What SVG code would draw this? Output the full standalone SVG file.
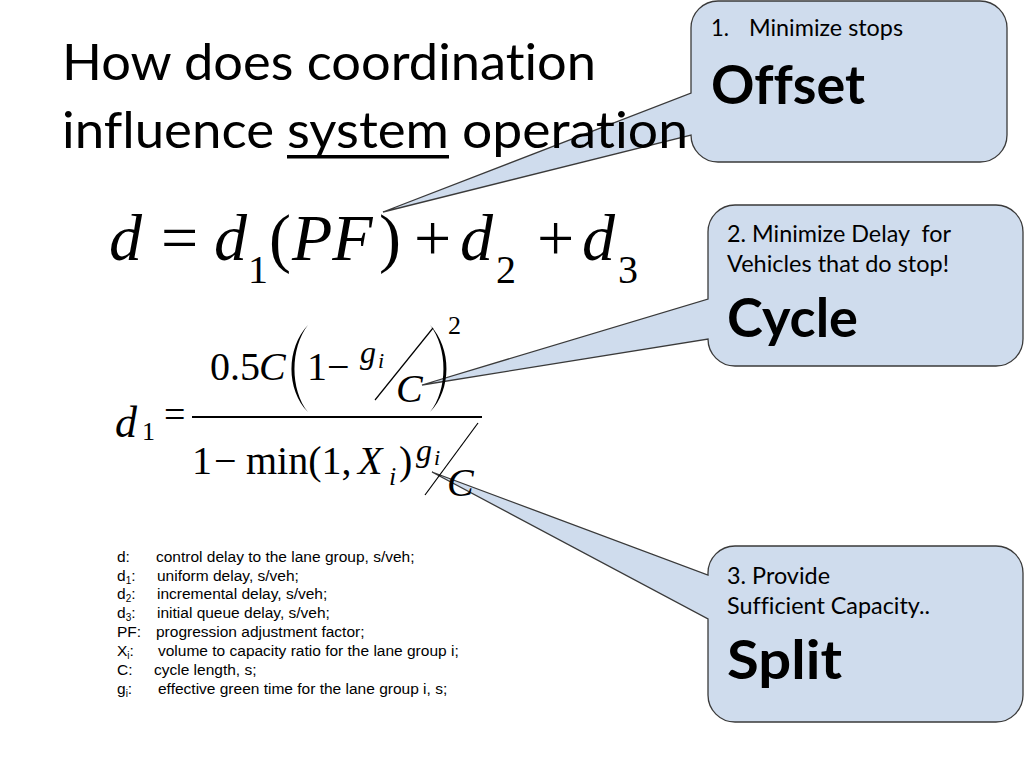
<svg xmlns="http://www.w3.org/2000/svg" width="1024" height="768" viewBox="0 0 1024 768">
<style>
text{font-variant-ligatures:none;font-feature-settings:"liga" 0,"clig" 0,"dlig" 0}
.callout{fill:#CFDCED;stroke:#3a3a3a;stroke-width:1.3;stroke-linejoin:miter}
.title{font-family:Lato,"Liberation Sans",sans-serif;font-size:51px;fill:#000}
.ct{font-family:Lato,"Liberation Sans",sans-serif;font-size:23px;fill:#000}
.cb{font-family:Lato,"Liberation Sans",sans-serif;font-size:54px;font-weight:bold;fill:#000}
.m{font-family:"Liberation Serif","Times New Roman",serif;fill:#000}
.mi{font-family:"Liberation Serif","Times New Roman",serif;font-style:italic;fill:#000}
.lg{font-family:"Liberation Sans",Arial,sans-serif;font-size:15.5px;fill:#000}
.sub{font-size:10px}
.ml{stroke:#000;fill:none}
</style>
<rect width="1024" height="768" fill="#fff"/>

<g id="callout-offset">
<path class="callout" d="M718,1 H980 A27,27 0 0 1 1007,28 V135 A27,27 0 0 1 980,162 H718 A27,27 0 0 1 691,135 L383,212 L691,93 V28 A27,27 0 0 1 718,1 Z"/>
<text class="ct" x="711" y="36" textLength="18" lengthAdjust="spacingAndGlyphs">1.</text>
<text class="ct" x="749" y="36" textLength="154" lengthAdjust="spacingAndGlyphs">Minimize stops</text>
<text class="cb" x="711" y="104" textLength="154" lengthAdjust="spacingAndGlyphs">Offset</text>
</g>

<g id="callout-cycle">
<path class="callout" d="M735,205 H996 A27,27 0 0 1 1023,232 V339 A27,27 0 0 1 996,366 H735 A27,27 0 0 1 708,339 L422,385 L708,299 V232 A27,27 0 0 1 735,205 Z"/>
<text class="ct" x="727" y="242" textLength="224" lengthAdjust="spacingAndGlyphs" xml:space="preserve">2. Minimize Delay  for</text>
<text class="ct" x="727" y="272" textLength="222" lengthAdjust="spacingAndGlyphs">Vehicles that do stop!</text>
<text class="cb" x="727" y="337" textLength="131" lengthAdjust="spacingAndGlyphs">Cycle</text>
</g>

<g id="callout-split">
<path class="callout" d="M735,546 H996 A27,27 0 0 1 1023,573 V695 A27,27 0 0 1 996,722 H735 A27,27 0 0 1 708,695 V619 L432,472 L708,575 V573 A27,27 0 0 1 735,546 Z"/>
<text class="ct" x="727" y="584" textLength="103" lengthAdjust="spacingAndGlyphs">3. Provide</text>
<text class="ct" x="727" y="614" textLength="203" lengthAdjust="spacingAndGlyphs">Sufficient Capacity..</text>
<text class="cb" x="727" y="679" textLength="115" lengthAdjust="spacingAndGlyphs">Split</text>
</g>

<g id="title">
<text class="title" x="62" y="80" textLength="534" lengthAdjust="spacingAndGlyphs">How does coordination</text>
<text class="title" x="62" y="148" textLength="212" lengthAdjust="spacingAndGlyphs">influence</text>
<text class="title" x="287" y="148" textLength="162" lengthAdjust="spacingAndGlyphs">system</text>
<rect x="287" y="155" width="162" height="3.5" fill="#000"/>
<text class="title" x="462" y="148" textLength="226" lengthAdjust="spacingAndGlyphs">operation</text>
</g>

<g id="equation-delay">
<text class="mi" x="109" y="260" font-size="66">d</text>
<text class="m" x="161" y="260" font-size="66">=</text>
<text class="mi" x="214" y="260" font-size="66">d</text>
<text class="m" x="248" y="283" font-size="40">1</text>
<text class="m" x="269" y="260" font-size="66">(</text>
<text class="mi" x="292" y="260" font-size="66">PF</text>
<text class="m" x="379" y="260" font-size="66">)</text>
<text class="m" x="414" y="260" font-size="66">+</text>
<text class="mi" x="460" y="260" font-size="66">d</text>
<text class="m" x="496" y="283" font-size="40">2</text>
<text class="m" x="537" y="260" font-size="66">+</text>
<text class="mi" x="582" y="260" font-size="66">d</text>
<text class="m" x="618" y="283" font-size="40">3</text>
</g>

<g id="equation-d1">
<text class="mi" x="115" y="437" font-size="44">d</text>
<text class="m" x="142" y="440" font-size="26">1</text>
<text class="m" x="164" y="427" font-size="38">=</text>
<line class="ml" x1="192" y1="417" x2="482" y2="417" stroke-width="1.8"/>
<text class="m" x="210" y="380" font-size="40">0.5</text>
<text class="mi" x="259" y="380" font-size="40">C</text>
<path d="M308,325 C286,348 286,390 308,412 C290,390 290,348 308,325 Z" fill="#000"/>
<text class="m" x="307" y="380" font-size="40">1</text>
<text class="m" x="327" y="380" font-size="40">−</text>
<text class="mi" x="360" y="363" font-size="32">g</text>
<text class="mi" x="378" y="368" font-size="22">i</text>
<line class="ml" x1="375" y1="400" x2="433" y2="328" stroke-width="1.2"/>
<text class="mi" x="396" y="402" font-size="40">C</text>
<path d="M430,325 C452,348 452,390 430,412 C448,390 448,348 430,325 Z" fill="#000"/>
<text class="m" x="448" y="334" font-size="26">2</text>
<text class="m" x="192" y="474" font-size="40">1</text>
<text class="m" x="214" y="474" font-size="40">−</text>
<text class="m" x="246" y="474" font-size="40">min(1,</text>
<text class="mi" x="358" y="474" font-size="40">X</text>
<text class="mi" x="389" y="485" font-size="26">i</text>
<text class="m" x="399" y="474" font-size="40">)</text>
<text class="mi" x="416" y="461" font-size="32">g</text>
<text class="mi" x="434" y="465" font-size="22">i</text>
<line class="ml" x1="425" y1="495" x2="478" y2="423" stroke-width="1.2"/>
<text class="mi" x="447" y="496" font-size="40">C</text>
</g>

<g id="legend">
<text class="lg" x="117" y="562">d:</text><text class="lg" x="156" y="562">control delay to the lane group, s/veh;</text>
<text class="lg" x="117" y="581">d<tspan class="sub" dy="3">1</tspan><tspan dy="-3">:</tspan></text><text class="lg" x="157" y="581">uniform delay, s/veh;</text>
<text class="lg" x="117" y="599">d<tspan class="sub" dy="3">2</tspan><tspan dy="-3">:</tspan></text><text class="lg" x="157" y="599">incremental delay, s/veh;</text>
<text class="lg" x="117" y="618">d<tspan class="sub" dy="3">3</tspan><tspan dy="-3">:</tspan></text><text class="lg" x="157" y="618">initial queue delay, s/veh;</text>
<text class="lg" x="117" y="637">PF:</text><text class="lg" x="156" y="637">progression adjustment factor;</text>
<text class="lg" x="117" y="656">X<tspan class="sub" dy="3">i</tspan><tspan dy="-3">:</tspan></text><text class="lg" x="158" y="656">volume to capacity ratio for the lane group i;</text>
<text class="lg" x="117" y="675">C:</text><text class="lg" x="154" y="675">cycle length, s;</text>
<text class="lg" x="117" y="694">g<tspan class="sub" dy="3">i</tspan><tspan dy="-3">:</tspan></text><text class="lg" x="158" y="694">effective green time for the lane group i, s;</text>
</g>
</svg>
